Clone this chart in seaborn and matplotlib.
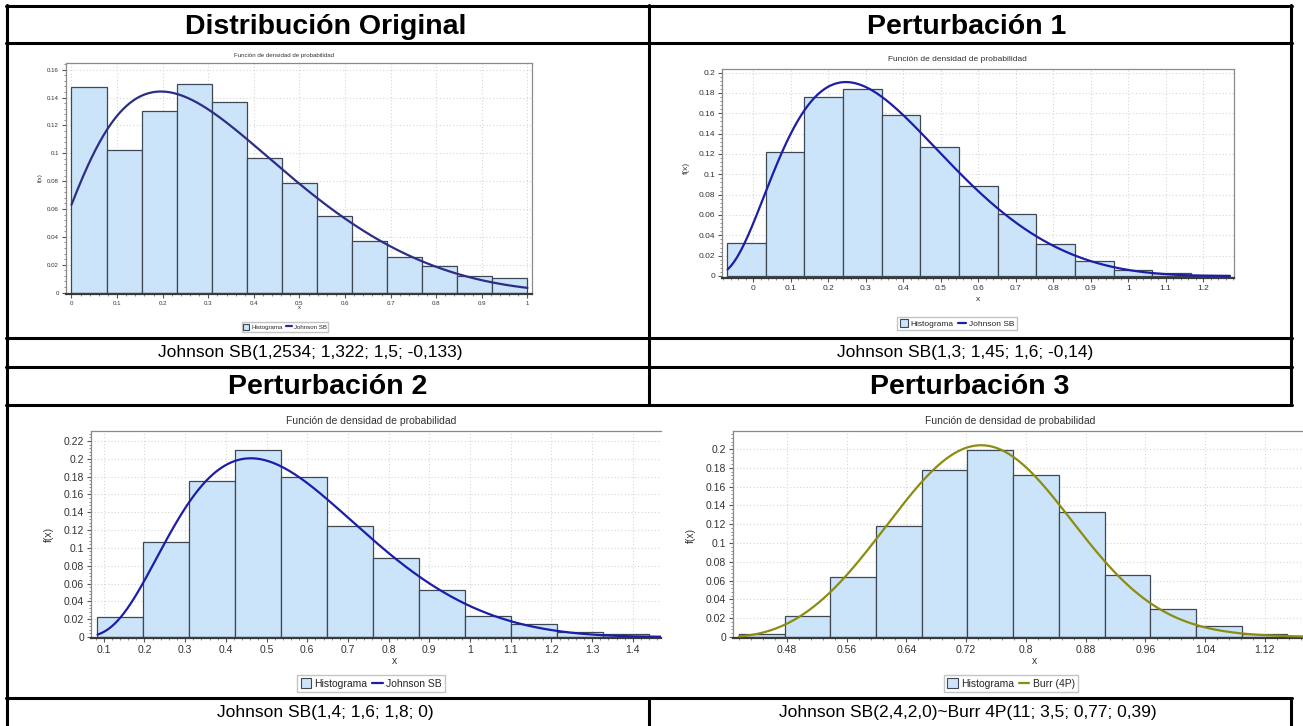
import numpy as np
import pandas as pd
import matplotlib
matplotlib.use("Agg")
import matplotlib.pyplot as plt
import seaborn as sns
from matplotlib.lines import Line2D
from matplotlib.patches import Patch
from matplotlib.ticker import FixedLocator, AutoMinorLocator, FuncFormatter

W, H = 1303, 726

# ---- text -----------------------------------------------------------------
headers = ["Distribución Original", "Perturbación 1", "Perturbación 2", "Perturbación 3"]
captions = [
    "Johnson SB(1,2534; 1,322; 1,5; -0,133)",
    "Johnson SB(1,3; 1,45; 1,6; -0,14)",
    "Johnson SB(1,4; 1,6; 1,8; 0)",
    "Johnson SB(2,4,2,0)~Burr 4P(11; 3,5; 0,77; 0,39)",
]
chart_title = "Función de densidad de probabilidad"
hist_label = "Histograma"
fit_labels = ["Johnson SB", "Johnson SB", "Johnson SB", "Burr (4P)"]

# ---- histogram data: first bin edge, bin width, relative frequency ---------
orig_start, orig_width = 0.0, 1 / 13
orig_freq = [0.1477, 0.1026, 0.1305, 0.1496, 0.1365, 0.0969, 0.0785,
             0.0547, 0.0372, 0.0258, 0.0191, 0.0119, 0.0107]

p1_start, p1_width = -0.0698, 0.1031
p1_freq = [0.0328, 0.1220, 0.1764, 0.1840, 0.1587, 0.1272, 0.0885,
           0.0610, 0.0311, 0.0144, 0.0062, 0.0026, 0.0010]

p2_start, p2_width = 0.0837, 0.1129
p2_freq = [0.0228, 0.1068, 0.1756, 0.2096, 0.1800, 0.1240, 0.0882,
           0.0523, 0.0235, 0.0142, 0.0060, 0.0030, 0.0012]

p3_start, p3_width = 0.4156, 0.0612
p3_freq = [0.0036, 0.0220, 0.0639, 0.1180, 0.1776, 0.1993, 0.1719,
           0.1325, 0.0657, 0.0302, 0.0121, 0.0036]

# ---- fitted distributions --------------------------------------------------
orig_jsb = [1.2534, 1.322, 1.5, -0.133]   # gamma, delta, lambda, xi
p1_jsb = [1.3, 1.45, 1.6, -0.14]
p2_jsb = [1.4, 1.6, 1.8, 0.0]
p3_burr = [11, 3.5, 0.77, 0.39]           # k, alpha, beta, gamma


def johnson_sb_pdf(x, g, d, lam, xi):
    z = (x - xi) / lam
    z = np.clip(z, 1e-9, 1 - 1e-9)
    return d / (lam * np.sqrt(2 * np.pi) * z * (1 - z)) * np.exp(
        -0.5 * (g + d * np.log(z / (1 - z))) ** 2)


def burr4p_pdf(x, k, a, b, g):
    y = np.clip((x - g) / b, 1e-12, None)
    return a * k * y ** (a - 1) / (b * (1 + y ** a) ** (k + 1))


# ---- colours ---------------------------------------------------------------
BAR = "#cce4f9"
EDGE = "#3e4852"
JSB_BLUE = "#1d1da6"
JSB_NAVY = "#2d2d86"
BURR_OLIVE = "#8c8c12"
GRID = "#d6d6d6"
TXT = "#333333"

sns.set_theme(style="white")
plt.rcParams["font.family"] = ["Liberation Sans", "DejaVu Sans"]

fig = plt.figure(figsize=(W / 100, H / 100), dpi=100)
fig.patch.set_facecolor("white")


def fx(px):
    return px / W


def fy(py):
    return 1 - py / H


def fmt(v, _):
    return f"{round(v, 4):g}"


def panel(box, start, width, freq, pdf, curve_span, xlim, ylim, xticks, yticks,
          color, fs, title_xy, ylab_xy, xlab_xy, leg_xy, fit_label, open_right=False):
    l, t, r, b = box
    ax = fig.add_axes([fx(l), fy(b), (r - l) / W, (b - t) / H])
    edges = start + width * np.arange(len(freq) + 1)
    hist_df = pd.DataFrame({"x": edges[:-1] + width / 2, "freq": freq})
    sns.histplot(data=hist_df, x="x", weights="freq", bins=list(edges), ax=ax,
                 color=BAR, edgecolor=EDGE, linewidth=0.9, alpha=1.0, zorder=2)
    xs = np.linspace(curve_span[0], curve_span[1], 700)
    curve_df = pd.DataFrame({"x": xs, "f": pdf(xs) * width})
    sns.lineplot(data=curve_df, x="x", y="f", ax=ax, color=color, linewidth=1.6,
                 zorder=3)
    ax.set_xlim(*xlim)
    ax.set_ylim(*ylim)
    ax.xaxis.set_major_locator(FixedLocator(xticks))
    ax.yaxis.set_major_locator(FixedLocator(yticks))
    ax.xaxis.set_major_formatter(FuncFormatter(fmt))
    ax.yaxis.set_major_formatter(FuncFormatter(fmt))
    ax.xaxis.set_minor_locator(AutoMinorLocator(5))
    ax.yaxis.set_minor_locator(AutoMinorLocator(5))
    ax.tick_params(which="major", length=3, width=0.8, color="#555555",
                   labelsize=fs, labelcolor=TXT, pad=2)
    ax.tick_params(which="minor", length=1.5, width=0.6, color="#777777")
    ax.tick_params(axis="x", which="both", bottom=True)
    ax.tick_params(axis="y", which="both", left=True)
    ax.grid(True, which="major", linestyle=(0, (1, 2)), color=GRID, linewidth=0.8)
    ax.set_axisbelow(True)
    ax.set_facecolor("white")
    for side in ("top", "right", "left"):
        ax.spines[side].set_color("#8a8a8a")
        ax.spines[side].set_linewidth(0.9)
    ax.spines["bottom"].set_color("#3a3a3a")
    ax.spines["bottom"].set_linewidth(1.6)
    if open_right:
        ax.spines["right"].set_visible(False)
    ax.set_xlabel("")
    ax.set_ylabel("")

    fig.text(fx(title_xy[0]), fy(title_xy[1]), chart_title, ha="center",
             va="center", fontsize=fs, color=TXT)
    fig.text(fx(ylab_xy[0]), fy(ylab_xy[1]), "f(x)", ha="center", va="center",
             rotation=90, fontsize=fs, color=TXT)
    fig.text(fx(xlab_xy[0]), fy(xlab_xy[1]), "x", ha="center", va="center",
             fontsize=fs, color=TXT)
    handles = [Patch(facecolor=BAR, edgecolor=EDGE, linewidth=0.8),
               Line2D([], [], color=color, linewidth=1.6)]
    fig.legend(handles, [hist_label, fit_label], loc="center",
               bbox_to_anchor=(fx(leg_xy[0]), fy(leg_xy[1])), ncol=2,
               fontsize=fs, frameon=True, fancybox=False, edgecolor="#c4c4c4",
               framealpha=1, handlelength=1.0, handleheight=1.0,
               handletextpad=0.3, columnspacing=0.5, borderpad=0.3)
    return ax


# ---- table grid ------------------------------------------------------------
def hline(y, x0=6, x1=1292, lw=2.2):
    fig.add_artist(Line2D([fx(x0), fx(x1)], [fy(y), fy(y)], color="black",
                          linewidth=lw, transform=fig.transFigure, zorder=0))


def vline(x, y0, y1, lw=2.2):
    fig.add_artist(Line2D([fx(x), fx(x)], [fy(y0), fy(y1)], color="black",
                          linewidth=lw, transform=fig.transFigure, zorder=0))


for y in (6, 43, 338, 367, 405, 698):
    hline(y)
vline(7, 5, 727)
vline(649, 5, 405)
vline(649, 698, 727)
vline(1291, 5, 405)
vline(1291, 698, 727)

header_pos = [(326, 33.5), (967, 33.5), (328, 394.5), (970, 394.5)]
caption_pos = [(310, 352.5), (965, 352.5), (325, 712), (968, 712)]
for txt, (x, y) in zip(headers, header_pos):
    fig.text(fx(x), fy(y), txt, ha="center", va="baseline", fontsize=20.5,
             fontweight="bold", color="black")
for txt, (x, y) in zip(captions, caption_pos):
    fig.text(fx(x), fy(y), txt, ha="center", va="center", fontsize=12.5,
             color="black")

# ---- panels ----------------------------------------------------------------
panel((66, 62.7, 532, 294), orig_start, orig_width, orig_freq,
      lambda x: johnson_sb_pdf(x, *orig_jsb), (0.0, 1.0),
      (-0.012, 1.01), (-0.001, 0.165),
      np.round(np.arange(0, 1.001, 0.1), 2), np.round(np.arange(0, 0.161, 0.02), 2),
      JSB_NAVY, 4.4, (284, 56), (40, 178), (299, 307.7), (285, 327), fit_labels[0])

panel((722, 69.3, 1234, 277.7), p1_start, p1_width, p1_freq,
      lambda x: johnson_sb_pdf(x, *p1_jsb), (-0.068, 1.27),
      (-0.083, 1.282), (-0.0017, 0.2033),
      np.round(np.arange(0, 1.201, 0.1), 2), np.round(np.arange(0, 0.201, 0.02), 2),
      JSB_BLUE, 6.0, (957, 59.3), (686.5, 168), (978, 300), (957, 323.5), fit_labels[1])

panel((91, 430.7, 661, 638.3), p2_start, p2_width, p2_freq,
      lambda x: johnson_sb_pdf(x, *p2_jsb), (0.085, 1.47),
      (0.0688, 1.469), (-0.0015, 0.2315),
      np.round(np.arange(0.1, 1.401, 0.1), 2), np.round(np.arange(0, 0.221, 0.02), 2),
      JSB_BLUE, 7.5, (371, 420.7), (49, 534), (395, 660.7), (371, 683.5),
      fit_labels[2], open_right=True)

panel((733, 430.7, 1303, 638.3), p3_start, p3_width, p3_freq,
      lambda x: burr4p_pdf(x, *p3_burr), (0.4156, 1.171),
      (0.4077, 1.171), (-0.0014, 0.2195),
      np.round(np.arange(0.48, 1.121, 0.08), 2), np.round(np.arange(0, 0.201, 0.02), 2),
      BURR_OLIVE, 7.5, (1010, 420.7), (690.7, 535), (1035, 660.7), (1011, 683.5),
      fit_labels[3], open_right=True)

fig.savefig("out.png", dpi=100, facecolor="white")
